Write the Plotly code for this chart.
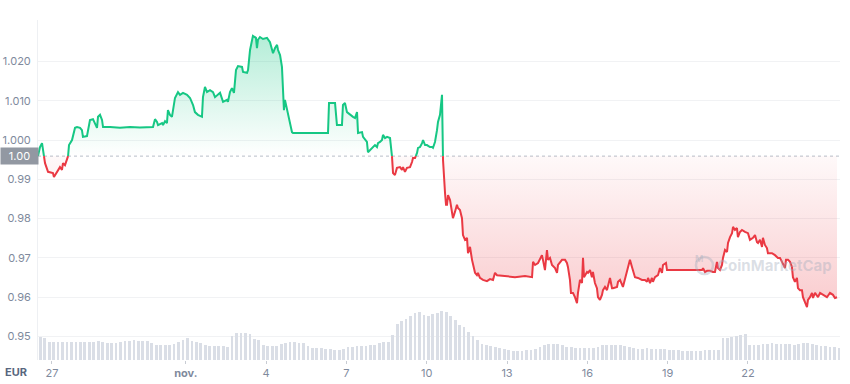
import numpy as np
import pandas as pd
import plotly.graph_objects as go

# ---------------- data ----------------
START = "2021-10-26 11:30"
# hours since START
HOURS = [
    0.0, 1.8, 3.6, 6.3, 9.0, 13.4, 14.3, 17.0, 19.7, 21.5, 22.4, 24.2, 26.0, 26.9, 27.8,
    30.5, 33.2, 35.0, 37.7, 39.4, 40.3, 43.9, 44.8, 46.6, 49.3, 51.1, 52.9, 53.8, 55.6,
    57.4, 58.3, 64.6, 73.5, 82.5, 91.4, 103.1, 104.9, 106.7, 107.6, 111.2, 112.1, 113.9,
    115.6, 116.5, 118.3, 120.1, 121.0, 122.8, 125.5, 127.3, 130.0, 133.6, 136.3, 139.0,
    140.7, 143.4, 147.0, 147.9, 149.7, 151.5, 154.2, 156.9, 158.7, 161.4, 163.2, 165.9,
    169.4, 170.3, 172.1, 173.9, 175.7, 177.5, 179.3, 182.9, 183.8, 187.4, 188.3, 190.1,
    191.9, 192.7, 195.4, 196.3, 197.2, 199.0, 201.7, 205.3, 208.0, 209.8, 210.7, 212.5,
    214.3, 215.2, 217.0, 218.7, 219.6, 220.5, 221.4, 223.2, 225.9, 227.7, 228.6, 234.9,
    243.8, 252.8, 260.0, 260.9, 266.3, 268.0, 272.5, 273.4, 275.2, 277.0, 279.7, 282.4,
    284.2, 286.0, 286.9, 290.5, 291.4, 293.1, 294.9, 295.8, 299.4, 302.1, 303.9, 304.8,
    306.6, 308.4, 309.3, 311.1, 312.9, 315.6, 317.4, 318.3, 320.0, 321.8, 324.5, 326.3,
    327.2, 329.0, 330.8, 333.5, 335.3, 336.2, 338.0, 339.8, 340.7, 342.5, 344.3, 345.2,
    347.0, 348.7, 351.4, 353.2, 354.1, 355.9, 357.7, 358.6, 360.4, 362.2, 363.1, 364.9,
    365.8, 366.7, 367.6, 369.4, 371.2, 372.0, 373.8, 375.6, 376.5, 378.3, 380.1, 381.0,
    382.8, 384.6, 385.5, 387.3, 389.1, 390.0, 391.8, 393.5, 394.4, 396.2, 398.9, 402.5,
    405.2, 407.9, 409.7, 411.5, 418.7, 427.6, 436.6, 442.9, 443.8, 445.6, 448.3, 451.8,
    452.7, 454.5, 456.3, 457.2, 459.0, 460.8, 463.5, 465.3, 466.2, 469.8, 472.5, 474.2,
    475.1, 476.9, 477.8, 479.6, 481.4, 483.2, 484.1, 485.9, 487.7, 488.6, 489.5, 492.2,
    493.1, 494.9, 496.6, 497.5, 499.3, 501.1, 502.0, 503.8, 505.6, 506.5, 508.3, 510.1,
    512.8, 514.6, 515.5, 519.1, 520.0, 521.8, 524.4, 528.0, 530.7, 532.5, 535.2, 537.9,
    541.5, 544.2, 546.0, 546.9, 548.7, 550.4, 551.3, 553.1, 555.8, 557.6, 559.4, 560.3,
    563.0, 563.9, 571.1, 580.0, 589.0, 595.3, 596.2, 598.0, 599.8, 602.4, 605.1, 606.9,
    608.7, 609.6, 611.4, 613.2, 614.1, 615.9, 617.7, 618.6, 620.4, 622.2, 623.1, 624.8,
    626.6, 627.5, 629.3, 631.1, 633.8, 635.6, 636.5, 638.3, 641.0, 642.8, 644.6, 645.5,
    647.3, 649.1, 649.9, 651.7, 653.5, 654.4, 658.0, 660.7, 663.4, 665.2, 667.0, 667.9,
    669.7, 670.6, 672.4, 674.2, 675.9, 676.8, 678.6, 680.4, 681.3, 683.1, 684.9, 685.8,
    687.6, 689.4, 690.3, 692.1, 693.9, 694.8, 696.6, 698.4, 699.3, 701.1, 703.7, 707.3,
    710.0, 712.7, 714.5, 716.3,
]
PRICE = [
    0.9959, 0.9982, 0.9992, 0.9941, 0.9919, 0.9916, 0.9906, 0.9919, 0.9931, 0.9924, 0.9941, 0.9936, 0.9954, 0.9957, 0.9987,
    1.0000, 1.0031, 1.0033, 1.0031, 1.0025, 1.0008, 1.0010, 1.0025, 1.0051, 1.0053, 1.0043, 1.0031, 1.0059, 1.0064,
    1.0051, 1.0033, 1.0033, 1.0031, 1.0033, 1.0032, 1.0033, 1.0053, 1.0046, 1.0038, 1.0043, 1.0038, 1.0048,
    1.0043, 1.0076, 1.0064, 1.0059, 1.0076, 1.0107, 1.0122, 1.0115, 1.0120, 1.0115, 1.0107, 1.0089,
    1.0071, 1.0064, 1.0059, 1.0109, 1.0135, 1.0122, 1.0127, 1.0122, 1.0109, 1.0115, 1.0120, 1.0097,
    1.0102, 1.0097, 1.0122, 1.0132, 1.0120, 1.0178, 1.0188, 1.0186, 1.0173, 1.0171, 1.0178, 1.0229,
    1.0260, 1.0265, 1.0260, 1.0234, 1.0255, 1.0262, 1.0257, 1.0260, 1.0249, 1.0229, 1.0221, 1.0234,
    1.0242, 1.0229, 1.0216, 1.0186, 1.0127, 1.0076, 1.0102, 1.0076, 1.0038, 1.0020, 1.0018, 1.0018,
    1.0017, 1.0018, 1.0018, 1.0094, 1.0094, 1.0038, 1.0038, 1.0089, 1.0094, 1.0071, 1.0064, 1.0059,
    1.0056, 1.0071, 1.0018, 1.0020, 1.0008, 1.0000, 0.9995, 0.9969, 0.9980, 0.9987, 0.9982, 0.9992,
    0.9995, 1.0000, 1.0013, 1.0005, 1.0008, 1.0005, 0.9957, 0.9916, 0.9911, 0.9929, 0.9931, 0.9924,
    0.9931, 0.9919, 0.9929, 0.9931, 0.9944, 0.9954, 0.9954, 0.9967, 0.9980, 0.9982, 0.9992, 1.0000,
    0.9987, 0.9987, 0.9982, 0.9982, 0.9980, 0.9995, 1.0025, 1.0046, 1.0064, 1.0115, 0.9949, 0.9865,
    0.9835, 0.9835, 0.9860, 0.9847, 0.9817, 0.9801, 0.9817, 0.9835, 0.9827, 0.9822, 0.9801, 0.9758,
    0.9746, 0.9751, 0.9712, 0.9728, 0.9695, 0.9682, 0.9662, 0.9656, 0.9662, 0.9649, 0.9644, 0.9641,
    0.9646, 0.9644, 0.9662, 0.9656, 0.9654, 0.9651, 0.9654, 0.9651, 0.9690, 0.9682, 0.9687, 0.9707,
    0.9695, 0.9669, 0.9720, 0.9695, 0.9700, 0.9682, 0.9674, 0.9662, 0.9682, 0.9695, 0.9695, 0.9687,
    0.9677, 0.9644, 0.9611, 0.9611, 0.9600, 0.9585, 0.9611, 0.9644, 0.9636, 0.9700, 0.9651, 0.9664,
    0.9662, 0.9669, 0.9651, 0.9664, 0.9636, 0.9623, 0.9600, 0.9593, 0.9606, 0.9618, 0.9626, 0.9618,
    0.9649, 0.9623, 0.9623, 0.9626, 0.9639, 0.9644, 0.9626, 0.9669, 0.9695, 0.9677, 0.9651, 0.9649,
    0.9644, 0.9644, 0.9639, 0.9649, 0.9636, 0.9649, 0.9639, 0.9651, 0.9656, 0.9674, 0.9662, 0.9682,
    0.9687, 0.9669, 0.9669, 0.9668, 0.9669, 0.9669, 0.9674, 0.9664, 0.9667, 0.9667, 0.9664, 0.9664,
    0.9690, 0.9674, 0.9669, 0.9682, 0.9700, 0.9720, 0.9715, 0.9738, 0.9753, 0.9763, 0.9779, 0.9771,
    0.9776, 0.9753, 0.9766, 0.9771, 0.9766, 0.9763, 0.9763, 0.9746, 0.9751, 0.9758, 0.9740, 0.9738,
    0.9746, 0.9728, 0.9751, 0.9733, 0.9725, 0.9712, 0.9712, 0.9707, 0.9700, 0.9700, 0.9690, 0.9682,
    0.9674, 0.9695, 0.9695, 0.9690, 0.9677, 0.9651, 0.9639, 0.9649, 0.9623, 0.9618, 0.9618, 0.9600,
    0.9585, 0.9575, 0.9593, 0.9600, 0.9611, 0.9598, 0.9611, 0.9603, 0.9600, 0.9611, 0.9606, 0.9600,
    0.9611, 0.9606, 0.9598, 0.9600,
]

VOL_START = "2021-10-26 13:30"   # 4-hour volume bars
VOLUME = [
    23.5, 22, 18.5, 18.5, 18, 18.5, 18, 18.5, 18, 18, 18.5, 18, 18.5, 19, 18, 17, 17, 17, 18, 19,
    19.5, 20, 19.5, 19, 19.5, 17, 15, 15, 15, 15, 16, 18, 20.5, 22.5, 19, 18.5, 17.5, 15, 14.5, 14.5,
    14, 14, 13.5, 24.5, 27, 27.5, 27, 26, 21, 20, 15, 14.5, 14, 14.5, 16, 17.5, 18, 18, 17.5, 17,
    14, 12.5, 12, 12, 11.5, 11, 10.5, 10, 11.5, 13, 13.5, 14, 14.5, 14.5, 15, 15.5, 17, 18, 18.5, 25,
    36, 39, 41, 44, 47, 48, 45, 44, 46, 47.5, 49.5, 48, 44, 40, 35, 33, 28, 24, 20.5, 16.5,
    15, 14, 13, 12, 11, 10, 9.5, 9.5, 9.5, 10, 10, 11.5, 13.5, 15.5, 16, 16, 16, 15, 13.5, 13,
    12.5, 12.5, 12.5, 12, 12.5, 13.5, 15, 15, 15, 15, 15, 14.5, 13, 12, 11.5, 11.5, 12, 11.5, 11, 11,
    11, 10.5, 10, 10, 9.5, 9.5, 9.5, 9.5, 9.5, 10, 10, 10.5, 10.5, 22, 22.5, 23, 24, 25, 26.5, 15.5,
    15.5, 15.5, 16, 16.5, 17, 16.5, 16.5, 16.5, 16, 15.5, 16, 17, 17, 16, 15, 14.5, 14, 13.5, 13, 12.5,
]

TICK_DATES = ["2021-10-27", "2021-11-01", "2021-11-04", "2021-11-07", "2021-11-10",
              "2021-11-13", "2021-11-16", "2021-11-19", "2021-11-22"]
TICK_LABELS = ["27", "<b>nov.</b>", "4", "7", "10", "13", "16", "19", "22"]
Y_TICKS = [0.95, 0.96, 0.97, 0.98, 0.99, 1.00, 1.01, 1.02]
Y_LABELS = ["0.95", "0.96", "0.97", "0.98", "0.99", "1.000", "1.010", "1.020"]

BASE = PRICE[0]
GREEN = "#16c784"
RED = "#ea3943"

# ---------- split at baseline crossings ----------
t = np.array(HOURS, dtype=float)
p = np.array(PRICE, dtype=float)
xs, ys = [t[0]], [p[0]]
for i in range(1, len(t)):
    a, b = p[i - 1] - BASE, p[i] - BASE
    if a * b < 0:
        f = a / (a - b)
        xs.append(t[i - 1] + f * (t[i] - t[i - 1]))
        ys.append(BASE)
    xs.append(t[i])
    ys.append(p[i])
xs = np.array(xs)
ys = np.array(ys)
start = pd.Timestamp(START)
dates = start + pd.to_timedelta(xs, unit="h")

upper = np.maximum(ys, BASE)
lower = np.minimum(ys, BASE)
green_y = [v if v >= BASE - 1e-9 else None for v in ys]
red_y = [v if v <= BASE + 1e-9 else None for v in ys]
base_y = np.full(len(ys), BASE)

vol_dates = pd.date_range(VOL_START, periods=len(VOLUME), freq="4h")

fig = go.Figure()

fig.add_trace(go.Bar(
    x=vol_dates, y=VOLUME, yaxis="y2",
    marker=dict(color="#dadee6", line=dict(width=0)),
    width=4 * 3600 * 1000 * 0.62, hoverinfo="skip",
))

# green fill
fig.add_trace(go.Scatter(x=dates, y=base_y, mode="lines", line=dict(width=0),
                         hoverinfo="skip"))
fig.add_trace(go.Scatter(
    x=dates, y=upper, mode="lines", line=dict(width=0), fill="tonexty",
    fillgradient=dict(type="vertical",
                      colorscale=[[0, "rgba(22,199,132,0.0)"], [1, "rgba(22,199,132,0.32)"]]),
    hoverinfo="skip"))
# red fill
fig.add_trace(go.Scatter(x=dates, y=base_y, mode="lines", line=dict(width=0),
                         hoverinfo="skip"))
fig.add_trace(go.Scatter(
    x=dates, y=lower, mode="lines", line=dict(width=0), fill="tonexty",
    fillgradient=dict(type="vertical",
                      colorscale=[[0, "rgba(234,57,67,0.26)"], [1, "rgba(234,57,67,0.03)"]]),
    hoverinfo="skip"))

fig.add_trace(go.Scatter(x=dates, y=green_y, mode="lines",
                         line=dict(color=GREEN, width=2), connectgaps=False, hoverinfo="skip"))
fig.add_trace(go.Scatter(x=dates, y=red_y, mode="lines",
                         line=dict(color=RED, width=2), connectgaps=False, hoverinfo="skip"))

W, H = 850, 384
L, R, T, B = 38, 10, 20, 24
pw, ph = W - L - R, H - T - B

def px_x(px):
    return (px - L) / pw

def px_y(py):
    return (H - B - py) / ph

ymin = 1 + (140 - 360) / 3930
ymax = 1 + (140 - 20) / 3930

fig.update_layout(
    width=W, height=H,
    margin=dict(l=L, r=R, t=T, b=B, autoexpand=False),
    paper_bgcolor="white", plot_bgcolor="white",
    showlegend=False, bargap=0,
    font=dict(family="Inter, Noto Sans, sans-serif", size=11, color="#808a9d"),
    xaxis=dict(
        type="date", automargin=False,
        range=[start, start + pd.Timedelta(hours=719)],
        tickvals=pd.to_datetime(TICK_DATES), ticktext=TICK_LABELS,
        ticks="outside", ticklen=3, tickcolor="#c8ccd3", tickwidth=1,
        showgrid=False, showline=False, zeroline=False,
        tickfont=dict(size=11, color="#808a9d"),
    ),
    yaxis=dict(
        range=[ymin, ymax], automargin=False,
        tickvals=Y_TICKS, ticktext=Y_LABELS,
        showgrid=True, gridcolor="#f1f2f4", gridwidth=1,
        showline=True, linecolor="#eef0f3", linewidth=1,
        zeroline=False, ticks="", ticklabelstandoff=4,
        tickfont=dict(size=11, color="#808a9d"),
    ),
    yaxis2=dict(range=[0, ph], overlaying="y", visible=False),
)

# dotted baseline
fig.add_shape(type="line", xref="paper", x0=0, x1=1, yref="y", y0=BASE, y1=BASE,
              line=dict(color="#b8bec8", width=1, dash="dot"), layer="below")

# baseline label
fig.add_annotation(xref="paper", x=px_x(0), xanchor="left", yref="y", y=BASE, yanchor="middle",
                   text="1.00", showarrow=False, bgcolor="#9298a2",
                   font=dict(color="white", size=11), width=33, height=12, borderpad=2)

# currency label
fig.add_annotation(xref="paper", x=px_x(3), xanchor="left", yref="paper", y=px_y(372),
                   yanchor="middle", text="<b>EUR</b>", showarrow=False,
                   font=dict(color="#58667e", size=11))

# watermark
wm = "rgba(160,170,186,0.38)"
fig.add_shape(type="circle", xref="paper", yref="paper",
              x0=px_x(696), x1=px_x(713), y0=px_y(274), y1=px_y(257),
              line=dict(color=wm, width=2.5))
fig.add_annotation(xref="paper", x=px_x(704.5), yref="paper", y=px_y(265.5), text="<b>M</b>",
                   showarrow=False, font=dict(color=wm, size=9))
fig.add_annotation(xref="paper", x=px_x(715), xanchor="left", yref="paper", y=px_y(265),
                   yanchor="middle", text="<b>CoinMarketCap</b>", showarrow=False,
                   font=dict(color=wm, size=15))

fig.write_html("out.html", config={"displayModeBar": False},
               post_script="document.body.style.margin='0px';document.body.style.padding='0px';")
